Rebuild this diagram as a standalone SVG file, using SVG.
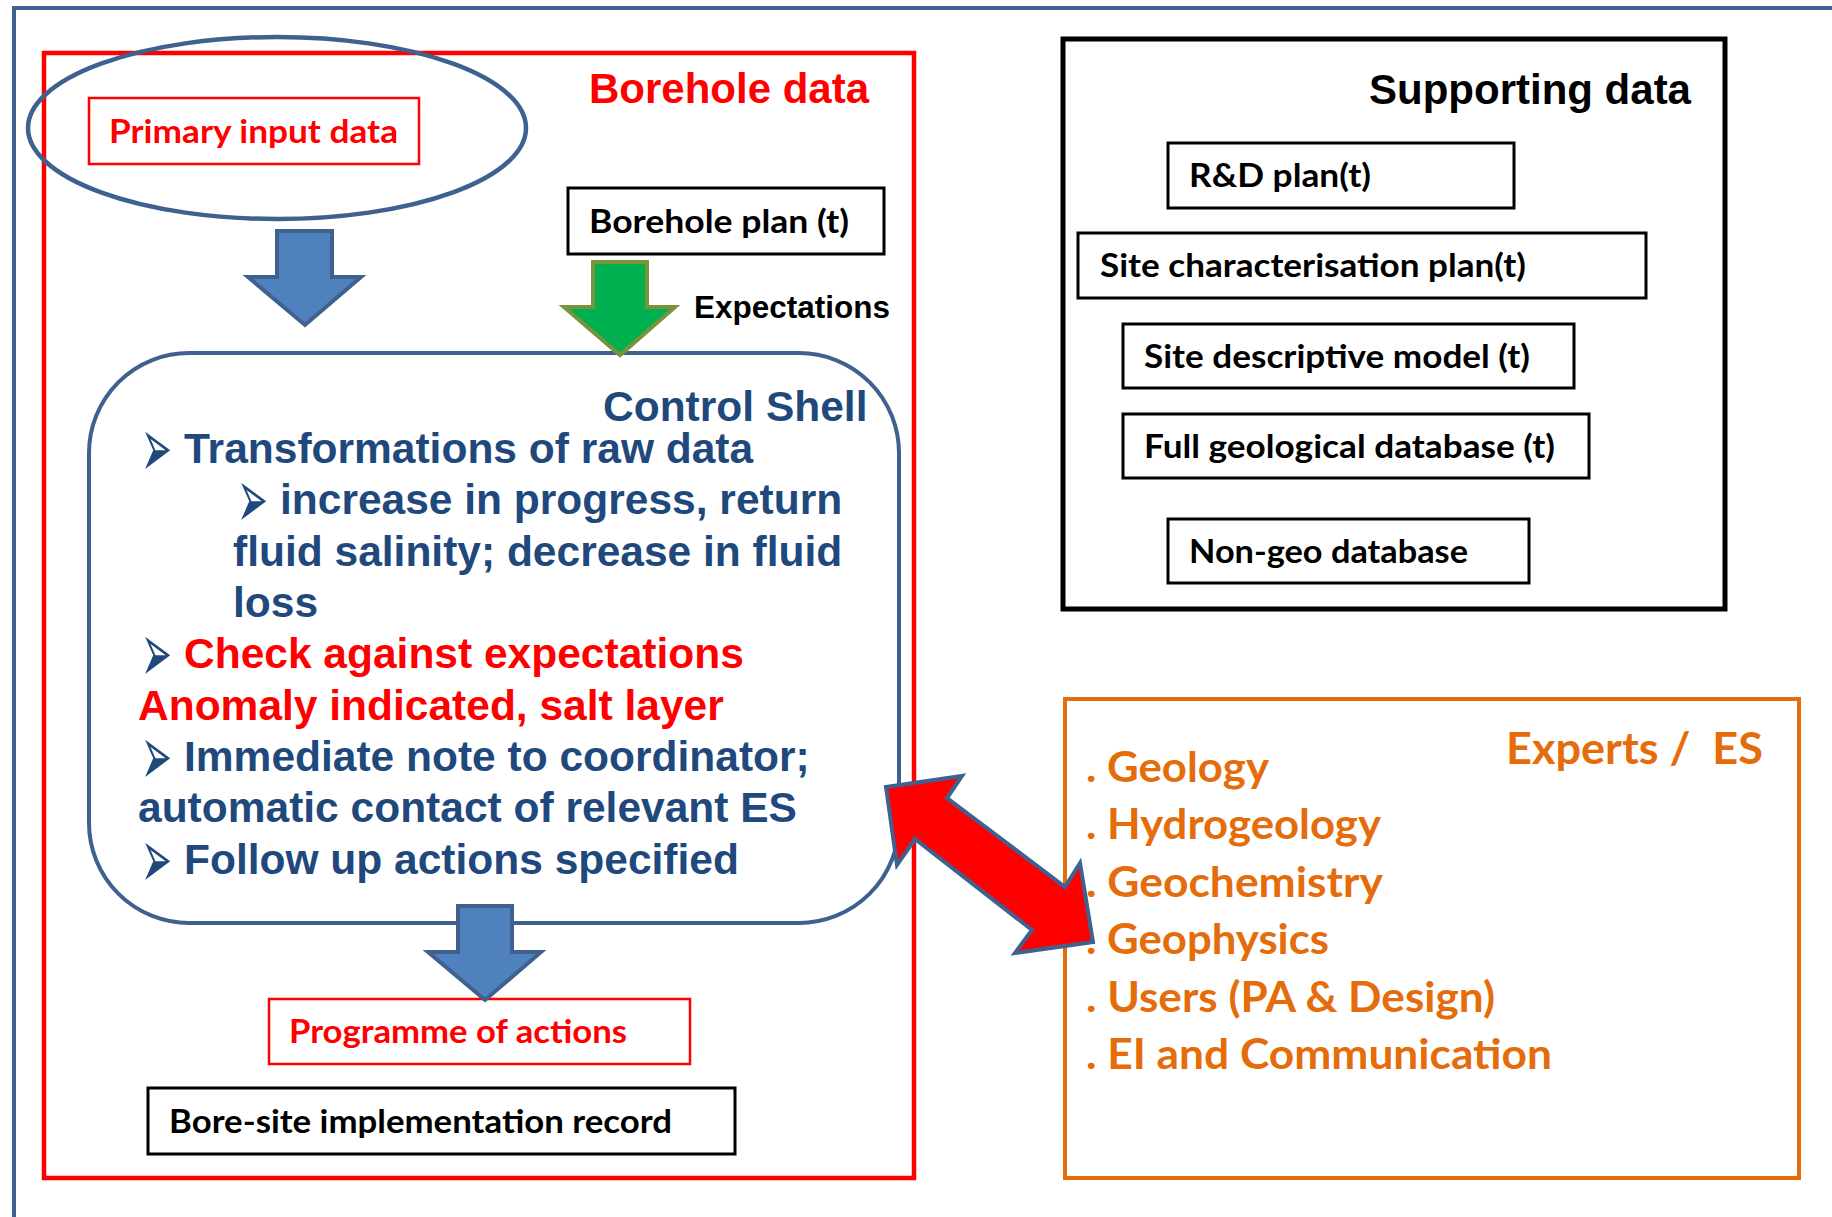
<svg xmlns="http://www.w3.org/2000/svg" width="1832" height="1217" viewBox="0 0 1832 1217">
<style>
.ar { font-family: 'Liberation Sans', Arial, sans-serif; font-weight: bold; }
.ca { font-family: Lato, 'Open Sans', sans-serif; font-weight: bold; }
.bu { font-family: 'DejaVu Sans', sans-serif; fill: #1F497D; font-size: 37px; }
.blue { fill: #1F497D; }
.red { fill: #FF0000; }
.blk { fill: #000000; }
.org { fill: #E46C0A; }
.box { fill: #FFFFFF; stroke: #000000; stroke-width: 3; }
.rbox { fill: #FFFFFF; stroke: #FF0000; stroke-width: 2.5; }
.barrow { fill: #4F81BD; stroke: #3F6190; stroke-width: 4; stroke-linejoin: miter; }
</style>
<rect width="1832" height="1217" fill="#FFFFFF"/>
<g id="frame">
  <path d="M14,1217 V8 H1832" fill="none" stroke="#41628F" stroke-width="4"/>
</g>
<g id="borehole-data">
  <rect x="44" y="53" width="870" height="1125" fill="none" stroke="#FF0000" stroke-width="4.5"/>
  <text class="ar red" x="589" y="103" font-size="42">Borehole data</text>
</g>
<g id="primary-input">
  <ellipse cx="277" cy="128" rx="249" ry="91" fill="none" stroke="#3F6190" stroke-width="4.5"/>
  <rect class="rbox" x="89" y="98" width="330" height="66"/>
  <text class="ca red" x="109" y="143" font-size="33" textLength="289" lengthAdjust="spacingAndGlyphs">Primary input data</text>
</g>
<g id="borehole-plan">
  <rect class="box" x="568" y="188" width="316" height="66"/>
  <text class="ca blk" x="589" y="233" font-size="33" textLength="260" lengthAdjust="spacingAndGlyphs">Borehole plan (t)</text>
</g>
<g id="expectations-label">
  <text class="ar blk" x="694" y="318" font-size="31.5">Expectations</text>
</g>
<g id="control-shell">
  <rect x="89" y="353" width="810" height="570" rx="100" ry="100" fill="#FFFFFF" stroke="#3F6190" stroke-width="4"/>
  <text class="ar blue" x="603" y="421" font-size="42.5">Control Shell</text>
  <text class="bu" transform="translate(141,477) scale(1,2.3)">➢</text>
  <text class="ar blue" x="184" y="463" font-size="42.5">Transformations of raw data</text>
  <text class="bu" transform="translate(237,528) scale(1,2.3)">➢</text>
  <text class="ar blue" x="280" y="514" font-size="42.5">increase in progress, return</text>
  <text class="ar blue" x="233" y="566" font-size="42.5">fluid salinity; decrease in fluid</text>
  <text class="ar blue" x="233" y="617" font-size="42.5">loss</text>
  <text class="bu" transform="translate(141,682) scale(1,2.3)">➢</text>
  <text class="ar red" x="184" y="668" font-size="42.5">Check against expectations</text>
  <text class="ar red" x="138" y="720" font-size="42.5">Anomaly indicated, salt layer</text>
  <text class="bu" transform="translate(141,785) scale(1,2.3)">➢</text>
  <text class="ar blue" x="184" y="771" font-size="42.5">Immediate note to coordinator;</text>
  <text class="ar blue" x="138" y="822" font-size="42.5">automatic contact of relevant ES</text>
  <text class="bu" transform="translate(141,888) scale(1,2.3)">➢</text>
  <text class="ar blue" x="184" y="874" font-size="42.5">Follow up actions specified</text>
</g>
<g id="programme-of-actions">
  <rect class="rbox" x="269" y="999" width="421" height="65"/>
  <text class="ca red" x="289" y="1043" font-size="33" textLength="338" lengthAdjust="spacingAndGlyphs">Programme of actions</text>
</g>
<g id="bore-site-record">
  <rect class="box" x="148" y="1088" width="587" height="66"/>
  <text class="ca blk" x="169" y="1133" font-size="33" textLength="503" lengthAdjust="spacingAndGlyphs">Bore-site implementation record</text>
</g>
<g id="supporting-data">
  <rect x="1063" y="39" width="662" height="570" fill="none" stroke="#000000" stroke-width="5"/>
  <text class="ar blk" x="1369" y="104" font-size="42">Supporting data</text>
</g>
<g id="rd-plan">
  <rect class="box" x="1168" y="143" width="346" height="65"/>
  <text class="ca blk" x="1189" y="187" font-size="33" textLength="182" lengthAdjust="spacingAndGlyphs">R&amp;D plan(t)</text>
</g>
<g id="site-characterisation-plan">
  <rect class="box" x="1078" y="233" width="568" height="65"/>
  <text class="ca blk" x="1100" y="277" font-size="33" textLength="426" lengthAdjust="spacingAndGlyphs">Site characterisation plan(t)</text>
</g>
<g id="site-descriptive-model">
  <rect class="box" x="1123" y="324" width="451" height="64"/>
  <text class="ca blk" x="1144" y="368" font-size="33" textLength="386" lengthAdjust="spacingAndGlyphs">Site descriptive model (t)</text>
</g>
<g id="full-geological-database">
  <rect class="box" x="1123" y="414" width="466" height="64"/>
  <text class="ca blk" x="1144" y="458" font-size="33" textLength="411" lengthAdjust="spacingAndGlyphs">Full geological database (t)</text>
</g>
<g id="non-geo-database">
  <rect class="box" x="1168" y="519" width="361" height="64"/>
  <text class="ca blk" x="1189" y="563" font-size="33" textLength="279" lengthAdjust="spacingAndGlyphs">Non-geo database</text>
</g>
<g id="experts-es">
  <rect x="1065" y="699" width="734" height="479" fill="none" stroke="#E46C0A" stroke-width="4"/>
  <text class="ca org" x="1506" y="764" font-size="43" textLength="257" lengthAdjust="spacingAndGlyphs" xml:space="preserve">Experts /  ES</text>
  <text class="ca org" x="1086" y="782" font-size="42" textLength="183" lengthAdjust="spacingAndGlyphs">. Geology</text>
  <text class="ca org" x="1086" y="839" font-size="42" textLength="295" lengthAdjust="spacingAndGlyphs">. Hydrogeology</text>
  <text class="ca org" x="1086" y="897" font-size="42" textLength="297" lengthAdjust="spacingAndGlyphs">. Geochemistry</text>
  <text class="ca org" x="1086" y="954" font-size="42" textLength="243" lengthAdjust="spacingAndGlyphs">. Geophysics</text>
  <text class="ca org" x="1086" y="1012" font-size="42" textLength="409" lengthAdjust="spacingAndGlyphs">. Users (PA &amp; Design)</text>
  <text class="ca org" x="1086" y="1069" font-size="42" textLength="466" lengthAdjust="spacingAndGlyphs">. EI and Communication</text>
</g>
<g id="connectors">
  <polygon class="barrow" points="277,231 332,231 332,277 361,277 305,325 248,277 277,277"/>
  <polygon points="593,262 647,262 647,307 675,307 620,355 564,307 593,307" fill="#00B050" stroke="#77933C" stroke-width="4"/>
  <polygon class="barrow" points="458,906 512,906 512,952 541,952 485,1000 428,952 458,952"/>
  <polygon points="886,787 962,776 947,798 1065,887 1080,863 1093,942 1015,953 1032,930 915,839 897,865" fill="#FF0000" stroke="#3F6190" stroke-width="4" stroke-linejoin="miter"/>
</g>
</svg>
